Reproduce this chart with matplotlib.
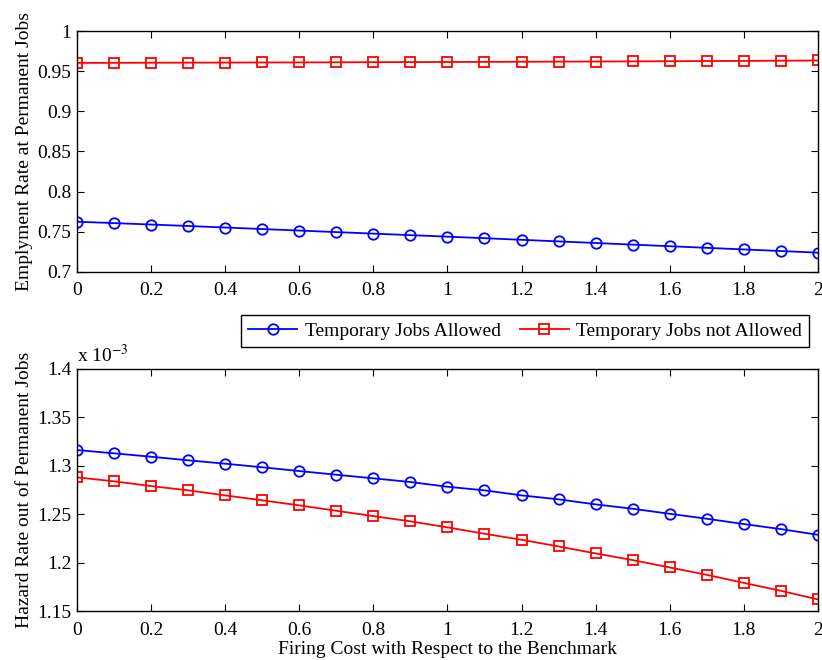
import matplotlib.pyplot as plt

# Шрифт у стилі MATLAB (Times)
plt.rcParams['font.family'] = ['Liberation Serif', 'DejaVu Serif']
plt.rcParams['mathtext.fontset'] = 'stix'

# Вартість звільнення відносно базового рівня
firing_cost = [0.0, 0.1, 0.2, 0.3, 0.4, 0.5, 0.6, 0.7, 0.8, 0.9, 1.0,
               1.1, 1.2, 1.3, 1.4, 1.5, 1.6, 1.7, 1.8, 1.9, 2.0]

# Рівень зайнятості на постійних робочих місцях
emp_temp_allowed = [0.7625, 0.7608, 0.7590, 0.7572, 0.7553, 0.7534, 0.7515,
                    0.7496, 0.7477, 0.7458, 0.7439, 0.7420, 0.7400, 0.7380,
                    0.7360, 0.7340, 0.7320, 0.7300, 0.7280, 0.7260, 0.7240]
emp_temp_not_allowed = [0.9603, 0.9604, 0.9605, 0.9606, 0.9607, 0.9608, 0.9609,
                        0.9610, 0.9612, 0.9613, 0.9614, 0.9616, 0.9617, 0.9619,
                        0.9620, 0.9622, 0.9624, 0.9626, 0.9628, 0.9630, 0.9633]

# Рівень ризику виходу з постійних робочих місць (x 10^-3)
haz_temp_allowed = [1.3163, 1.3129, 1.3094, 1.3057, 1.3022, 1.2985, 1.2946,
                    1.2908, 1.2871, 1.2833, 1.2784, 1.2747, 1.2695, 1.2654,
                    1.2602, 1.2557, 1.2505, 1.2454, 1.2399, 1.2347, 1.2288]
haz_temp_not_allowed = [1.2881, 1.2840, 1.2791, 1.2747, 1.2695, 1.2644, 1.2592,
                        1.2536, 1.2481, 1.2427, 1.2365, 1.2299, 1.2237, 1.2168,
                        1.2096, 1.2027, 1.1951, 1.1875, 1.1792, 1.1710, 1.1621]

labels = ["Temporary Jobs Allowed", "Temporary Jobs not Allowed"]
x_ticks = [0, 0.2, 0.4, 0.6, 0.8, 1.0, 1.2, 1.4, 1.6, 1.8, 2.0]
x_tick_labels = ["0", "0.2", "0.4", "0.6", "0.8", "1", "1.2", "1.4", "1.6", "1.8", "2"]

FS = 14


def style_axes(ax):
    ax.set_xlim(0, 2)
    ax.set_xticks(x_ticks)
    ax.set_xticklabels(x_tick_labels)
    ax.tick_params(direction='in', top=True, right=True, labelsize=FS, length=5)
    ax.tick_params(axis='x', pad=7.5)
    ax.tick_params(axis='y', pad=4)
    for s in ax.spines.values():
        s.set_linewidth(1.0)


fig = plt.figure(figsize=(8.22, 6.6), dpi=100)
ax1 = fig.add_axes([0.0937, 0.588, 0.9013, 0.365])
ax2 = fig.add_axes([0.0937, 0.074, 0.9013, 0.367])

# Верхній графік
l1, = ax1.plot(firing_cost, emp_temp_allowed, color='blue', marker='o', ms=7.5,
               mfc='none', mew=1.3, lw=1.3)
l2, = ax1.plot(firing_cost, emp_temp_not_allowed, color='red', marker='s', ms=6.5,
               mfc='none', mew=1.3, lw=1.3)
ax1.set_ylim(0.7, 1.0)
ax1.set_yticks([0.7, 0.75, 0.8, 0.85, 0.9, 0.95, 1.0])
ax1.set_yticklabels(["0.7", "0.75", "0.8", "0.85", "0.9", "0.95", "1"])
ax1.set_ylabel("Emplyment Rate at Permanent Jobs", fontsize=FS, labelpad=3)
style_axes(ax1)

# Нижній графік
ax2.plot(firing_cost, haz_temp_allowed, color='blue', marker='o', ms=7.5,
         mfc='none', mew=1.3, lw=1.3)
ax2.plot(firing_cost, haz_temp_not_allowed, color='red', marker='s', ms=6.5,
         mfc='none', mew=1.3, lw=1.3)
ax2.set_ylim(1.15, 1.4)
ax2.set_yticks([1.15, 1.2, 1.25, 1.3, 1.35, 1.4])
ax2.set_yticklabels(["1.15", "1.2", "1.25", "1.3", "1.35", "1.4"])
ax2.set_ylabel("Hazard Rate out of Permanent Jobs", fontsize=FS, labelpad=3)
ax2.set_xlabel("Firing Cost with Respect to the Benchmark", fontsize=FS, labelpad=2)
ax2.text(0, 1.01, r"x 10$^{-3}$", transform=ax2.transAxes, fontsize=FS,
         ha='left', va='bottom')
style_axes(ax2)

leg = fig.legend([l1, l2], labels, loc='center', bbox_to_anchor=(0.639, 0.4985),
                 ncol=2, fontsize=FS, fancybox=False, edgecolor='black',
                 framealpha=1, handlelength=2.5, columnspacing=1.0,
                 handletextpad=0.4, borderpad=0.35)
leg.get_frame().set_linewidth(1.0)

fig.savefig("out.png", dpi=100)
